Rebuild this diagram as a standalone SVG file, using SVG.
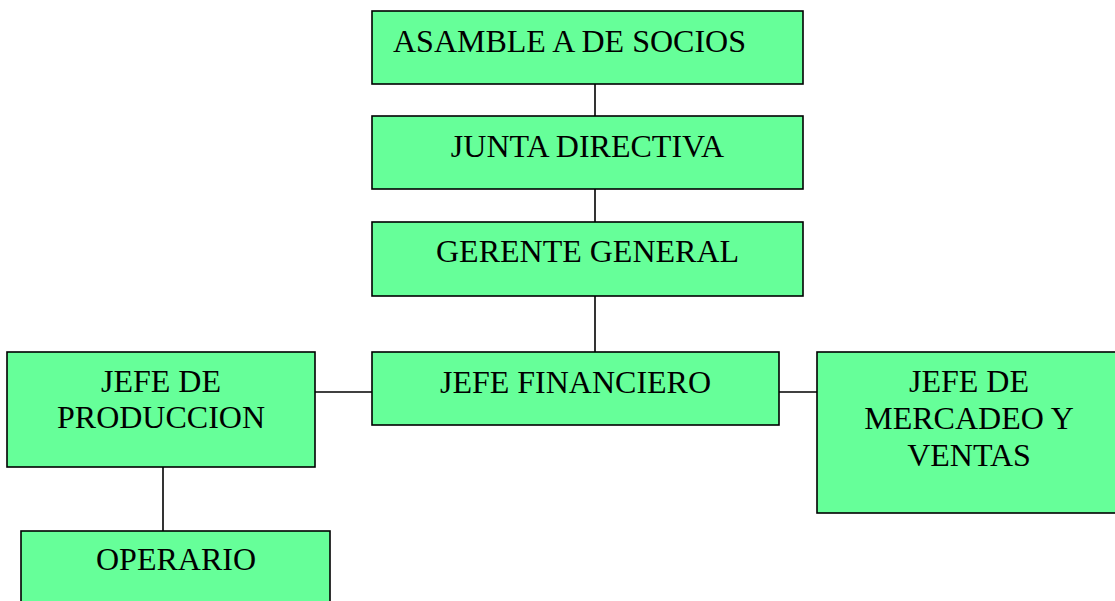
<svg xmlns="http://www.w3.org/2000/svg" width="1115" height="601" viewBox="0 0 1115 601">
<style>
.box{fill:#66ff99;stroke:#000;stroke-width:1.6}
.t{font-family:"Liberation Serif","Times New Roman",serif;font-size:32px;fill:#000;text-anchor:middle}
.c{stroke:#000;stroke-width:1.6;fill:none}
</style>
<rect width="1115" height="601" fill="#fff"/>
<g id="connectors">
<line class="c" x1="595" y1="84" x2="595" y2="116"/>
<line class="c" x1="595" y1="189" x2="595" y2="222"/>
<line class="c" x1="595" y1="296" x2="595" y2="352"/>
<line class="c" x1="315" y1="392" x2="372" y2="392"/>
<line class="c" x1="779" y1="392" x2="817" y2="392"/>
<line class="c" x1="163" y1="467" x2="163" y2="531"/>
</g>
<g id="asamblea">
<rect class="box" x="372" y="11" width="431" height="73"/>
<text class="t" x="393" y="52" style="text-anchor:start">ASAMBLE A DE SOCIOS</text>
</g>
<g id="junta">
<rect class="box" x="372" y="116" width="431" height="73"/>
<text class="t" x="587.5" y="157">JUNTA DIRECTIVA</text>
</g>
<g id="gerente">
<rect class="box" x="372" y="222" width="431" height="74"/>
<text class="t" x="587.5" y="262">GERENTE GENERAL</text>
</g>
<g id="financiero">
<rect class="box" x="372" y="352" width="407" height="73"/>
<text class="t" x="575.5" y="393">JEFE FINANCIERO</text>
</g>
<g id="produccion">
<rect class="box" x="7" y="352" width="308" height="115"/>
<text class="t" x="161" y="392">JEFE DE</text>
<text class="t" x="161" y="428">PRODUCCION</text>
</g>
<g id="mercadeo">
<rect class="box" x="817" y="352" width="304" height="161"/>
<text class="t" x="969" y="392">JEFE DE</text>
<text class="t" x="969" y="429">MERCADEO Y</text>
<text class="t" x="969" y="466">VENTAS</text>
</g>
<g id="operario">
<rect class="box" x="21" y="531" width="309" height="80"/>
<text class="t" x="176" y="570">OPERARIO</text>
</g>
</svg>
